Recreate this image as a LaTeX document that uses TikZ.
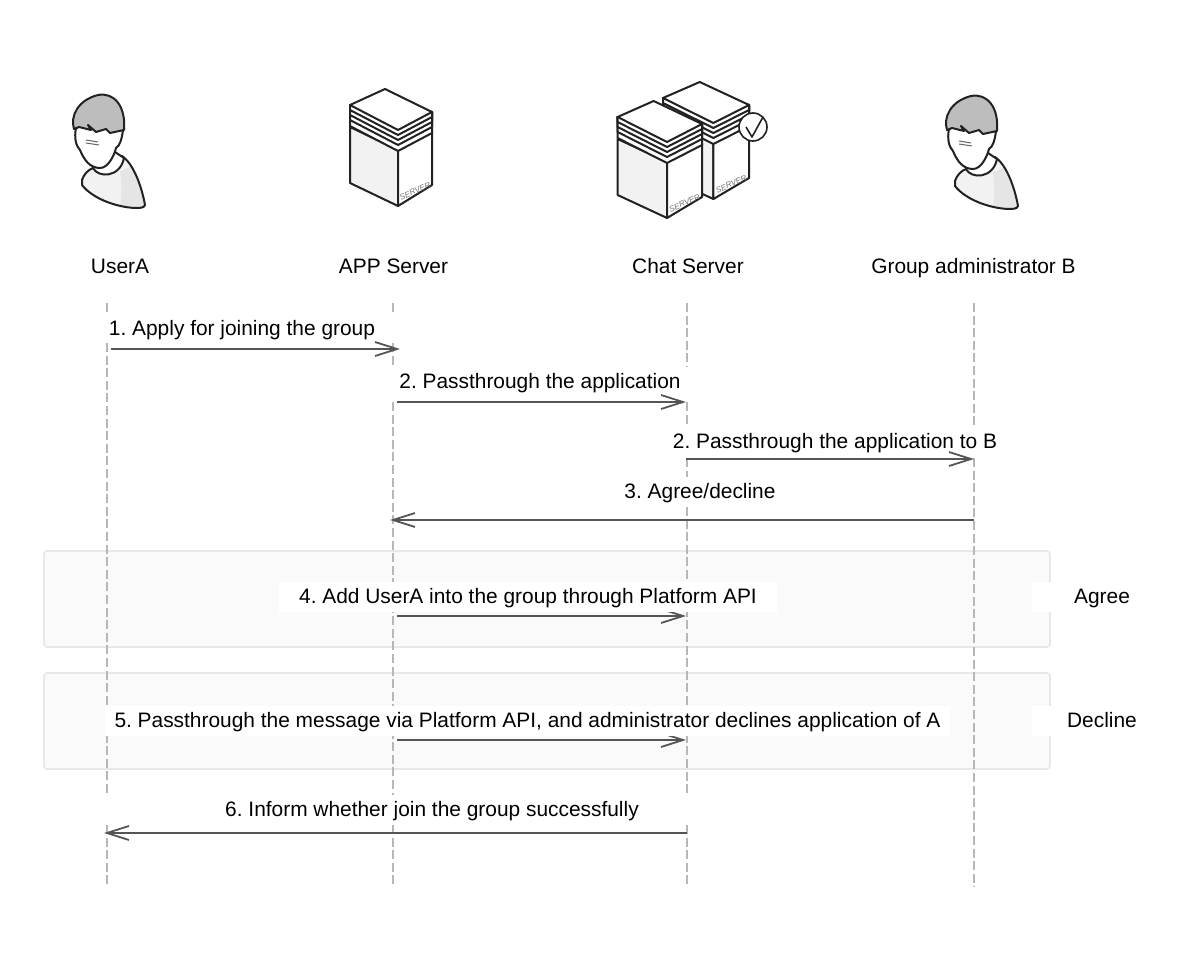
\documentclass[tikz,border=0pt]{standalone}
\usepackage{fontspec}
\setmainfont{Liberation Sans}
\usetikzlibrary{arrows.meta}
\definecolor{bandgray}{HTML}{FAFAFA}
\definecolor{bandline}{HTML}{E8E8E8}
\definecolor{lifegray}{HTML}{B4B8BC}
\definecolor{msggray}{HTML}{555555}
\definecolor{icondark}{HTML}{222222}
\tikzset{icon line/.style={draw=icondark,line width=1pt,line join=round}}
\tikzset{lifeline/.style={draw=lifegray,line width=.75pt,dash pattern=on 4.5pt off 1.8pt}}
\tikzset{band/.style={draw=bandline,line width=.8pt,fill=bandgray,rounded corners=1.5pt}}
\tikzset{msg/.style={draw=msggray,line width=.9pt,-{Straight Barb[length=11pt,width=7pt,line width=.9pt]}}}
\tikzset{msgtext/.style={font=\fontsize{10.45}{12}\selectfont,text=black,inner sep=0pt,anchor=base}}
\tikzset{masktext/.style={msgtext,fill=white,text height=10.5pt,text depth=4.5pt}}
% one user, origin at the top left of its crop
\tikzset{person/.pic={
  \path [fill=white!95!black] (32,100) .. controls (34,94) and (38,90) .. (43,88)
    -- (72,76) .. controls (84,84) and (92,108) .. (95,125)
    .. controls (94,128) and (90,128) .. (85,128) .. controls (65,127) and (42,118) .. (32,105) -- cycle;
  \path [fill=white!90!black] (70,92) .. controls (72,104) and (72,116) .. (70,126)
    -- (85,128) .. controls (90,128) and (94,128) .. (95,125)
    .. controls (92,110) and (86,94) .. (82,86) -- cycle;
  \path [icon line] (32,100) .. controls (34,94) and (38,90) .. (43,88)
    -- (72,76) .. controls (84,84) and (92,108) .. (95,125)
    .. controls (94,128) and (90,128) .. (85,128) .. controls (65,127) and (42,118) .. (32,105) -- cycle;
  \path [icon line,fill=white] (43,88) .. controls (48,98) and (70,98) .. (74,78) -- (62,70) -- cycle;
  \path [icon line,fill=white] (26,48) .. controls (24,58) and (26,66) .. (30,70)
    .. controls (34,80) and (40,88) .. (50,88) .. controls (58,88) and (64,76) .. (66,68)
    .. controls (70,66) and (72,58) .. (73,50) -- (50,38) -- cycle;
  \path [icon line,fill=white!74!black] (24,49) .. controls (20,36) and (28,20) .. (48,15)
    .. controls (64,12) and (76,26) .. (74,50) -- (60,53) -- (56,49) -- (46,52) -- (38,45)
    -- (41,50) -- (29,47) -- cycle;
  \path [draw=icondark!70,line width=.5pt] (36,60) -- (48,62) (36,63) -- (49,65);
}}
% one server block, origin at the top left of its crop
\tikzset{server/.pic={
  \path [icon line,fill=white!95!black] (20,47) -- (68,70) -- (68,126) -- (20,103) -- cycle;
  \path [icon line,fill=white] (68,70) -- (102,52) -- (102,105) -- (68,126) -- cycle;
  \foreach \dy in {21,15,10,5} {
    \path [icon line,fill=white] (20,25) -- (20,25+\dy) -- (68,50+\dy) -- (102,32+\dy) -- (102,32) -- cycle;
  }
  \path [icon line,fill=white] (20,25) -- (55,9) -- (102,32) -- (68,50) -- cycle;
  \node [font=\fontsize{4}{5}\selectfont\itshape,text=black!55,rotate=24,inner sep=0pt] (tag) at (85,111) {SERVER};
}}
\begin{document}
\begin{tikzpicture}[x=.5pt,y=-.5pt]
  \useasboundingbox [fill=white] (0,0) rectangle (1180,958);

  % bands
  \path [band] (44,551) rectangle (1050,647);
  \path [band] (44,673) rectangle (1050,769);

  % lifelines
  \foreach \n/\x/\s in {
  A/107/{303/312,343/795,825/887},
  S/393/{303/312,343/367,402/795,825/887},
  C/687/{303/367,402/425,458/477,507/795,825/887},
  B/974/{303/425,458/887}}
  {
  \coordinate (\n) at (\x,0);
  \foreach \a/\b in \s
  {
  \path [lifeline] (\x,\a) -- (\x,\b);
  }
  }

  % icons
  \pic (userIcon) at (50,80) {person};
  \pic (adminIcon) at (923,81) {person};
  \pic (appIcon) at (330,80) {server};
  \pic (chatBack) [xscale=1.05] at (642,73) {server};
  \pic (chatFront) [xscale=1.03] at (597,92) {server};
  \node [circle,icon line,fill=white,line width=.8pt,minimum size=14pt,inner sep=0pt] (tick) at (753,127) {};
  \path [icon line,line width=.8pt] (746,127) -- (752,137) -- (763,117);

  % titles
  \node [msgtext] (userA) at (120,273) {UserA};
  \node [msgtext] (app) at (393.5,273) {APP Server};
  \node [msgtext] (chat) at (688,273) {Chat Server};
  \node [msgtext] (admin) at (973.5,273) {Group administrator B};

  % messages
  \foreach \s/\e/\y in {
  111/400/349,397/686/402,686/974/459,974/390/520,397/686/616,397/686/740,687/104/833}
  {
  \coordinate (m\y) at (\s,\y);
  \coordinate (n\y) at (\e,\y);
  \path [msg] (m\y) -- (n\y);
  }

  % labels
  \frenchspacing
  \node [msgtext] (l1) at (242,335) {1. Apply for joining the group};
  \node [msgtext] (l2) at (540,388) {2. Passthrough the application};
  \node [msgtext] (l3) at (835,448) {2. Passthrough the application to B};
  \node [msgtext] (l4) at (700,498) {3. Agree/decline};
  \node [masktext,minimum width=249pt] (l5) at (528,603) {4. Add UserA into the group through Platform API};
  \node [masktext,minimum width=422.5pt] (l6) at (527.5,727) {5. Passthrough the message via Platform API, and administrator declines application of A};
  \node [msgtext] (l7) at (432,816) {6. Inform whether join the group successfully};
  \node [masktext,minimum width=70pt] (agree) at (1102,603) {Agree};
  \node [masktext,minimum width=70pt] (decline) at (1102,727) {Decline};
\end{tikzpicture}
\end{document}
